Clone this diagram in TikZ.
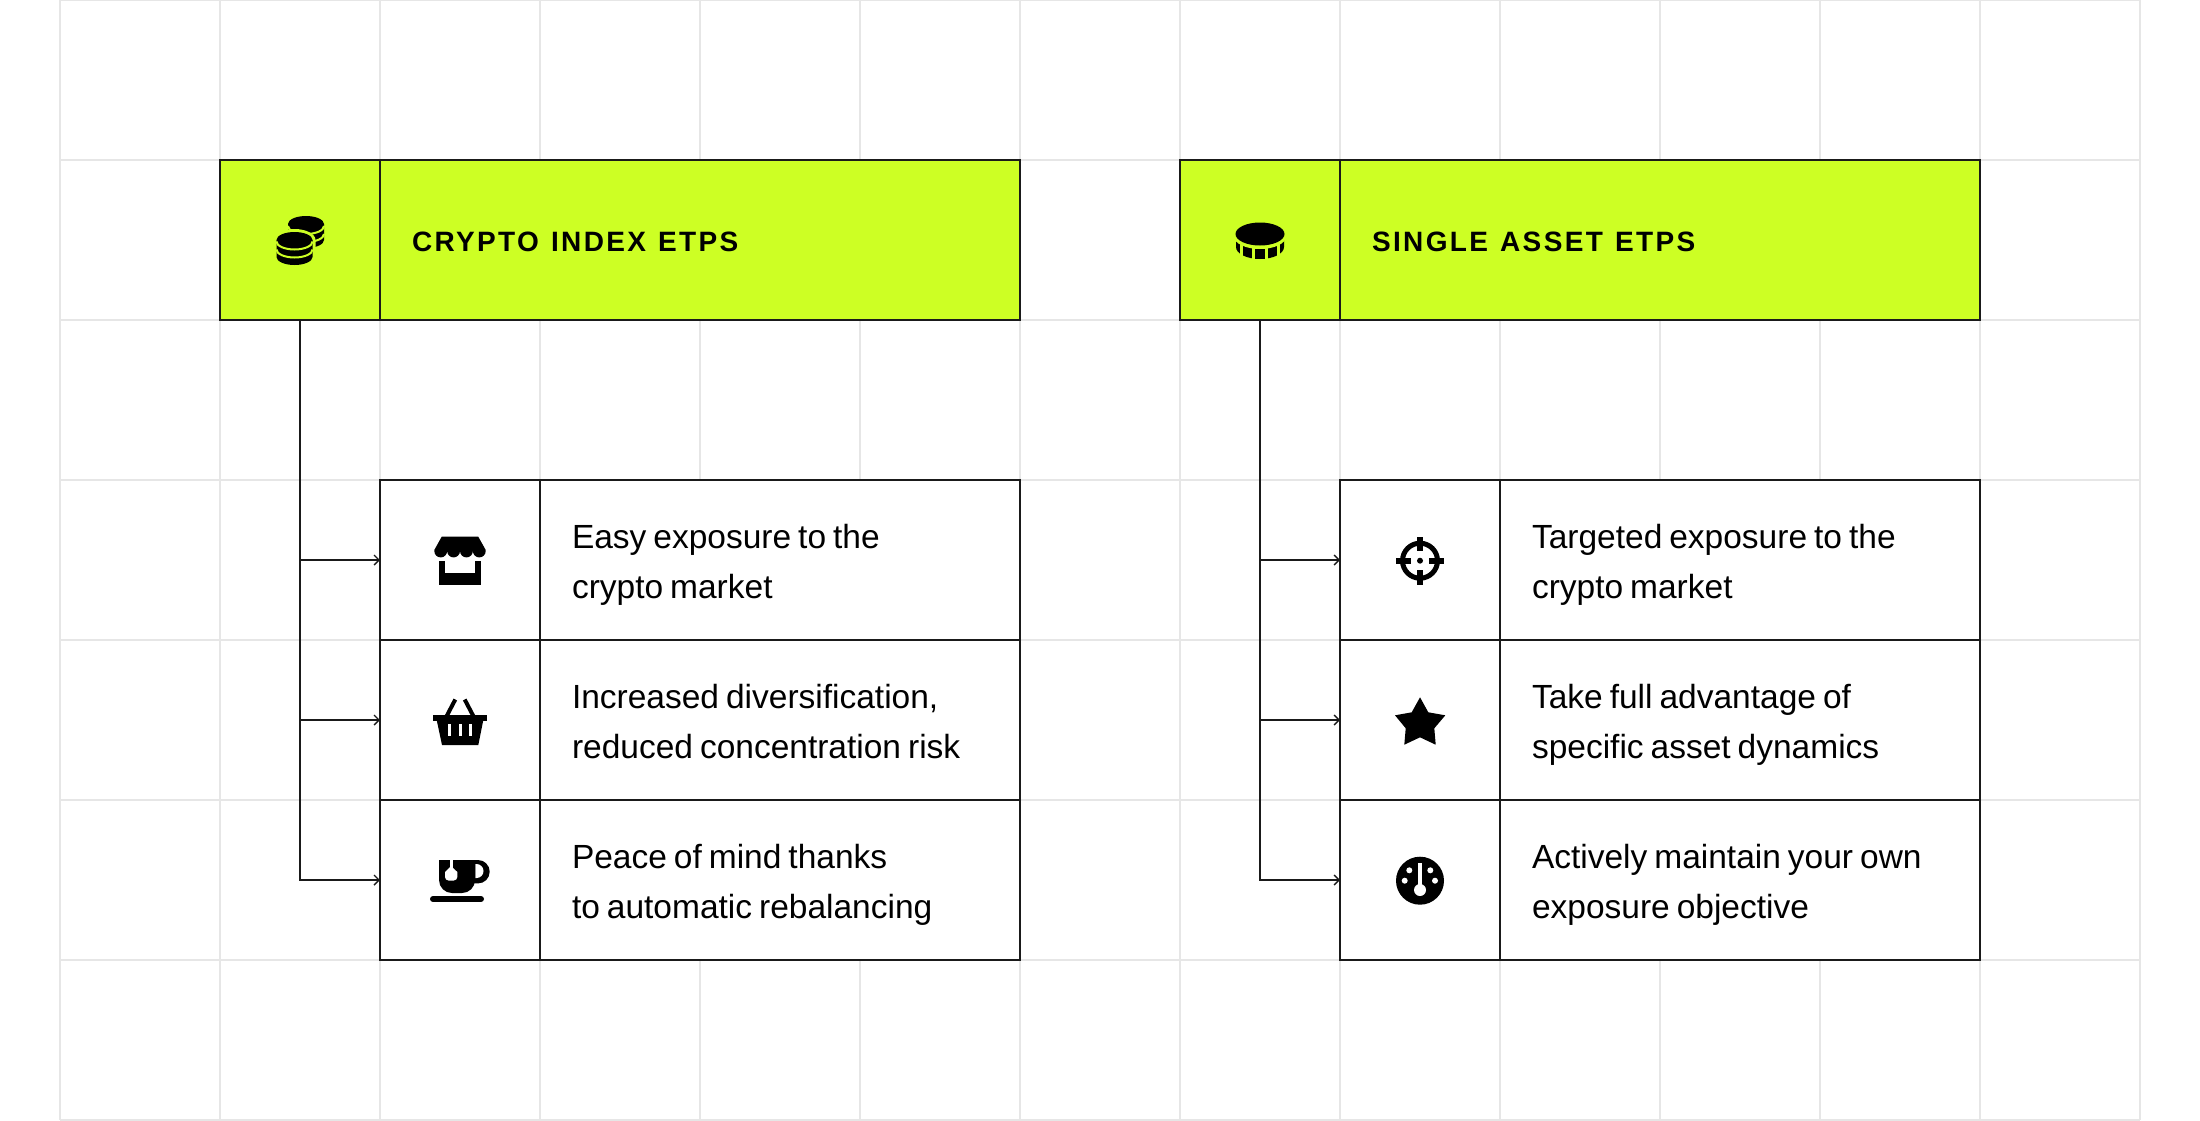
\documentclass[tikz,border=0pt]{standalone}
\usepackage{fontspec}
\setmainfont{Liberation Sans}
\newfontfamily\headfont[LetterSpace=8.5]{Liberation Sans}
\newfontfamily\bodyfont{Liberation Sans}
\usetikzlibrary{arrows.meta}
\definecolor{lime}{HTML}{CDFF24}
\definecolor{gridgrey}{HTML}{E6E6E6}
\definecolor{inkline}{HTML}{1A1A1A}
\newcommand{\lowerbody}{\spaceskip=7pt\relax\rule{0pt}{34pt}}
\newcommand{\lowerhead}{\spaceskip=12pt\relax\rule{0pt}{24pt}}
\newcommand{\depthend}{\rule[-7pt]{0pt}{7pt}}
\newcommand{\headtype}{\headfont\fontsize{28}{32}\selectfont\bfseries}
\newcommand{\bodytype}{\bodyfont\fontsize{33.5}{50}\selectfont}
\tikzset{
  gridline/.style={draw=gridgrey,line width=1.6pt},
  cell/.style={draw=inkline,line width=1.4pt,inner sep=0pt,outer sep=0pt,anchor=north west,fill=white,minimum height=160pt},
  iconcell/.style={cell,minimum width=160pt},
  headicon/.style={iconcell,fill=lime},
  headcell/.style={cell,fill=lime,minimum width=640pt,text width=576pt,inner xsep=32pt,align=left,font=\headtype},
  textcell/.style={cell,text width=#1,inner xsep=32pt,align=left,font=\bodytype},
  link/.style={draw=inkline,line width=1.4pt,-{Straight Barb[length=5pt,width=10pt,line width=1.4pt]}},
  ink/.style={fill=black,draw=none},
  paper/.style={fill=white,draw=none},
  limeink/.style={fill=lime,draw=none},
  bandgap/.style={draw=lime,line width=2pt},
  coinarc/.style={start angle=180,end angle=0,x radius=18,y radius=8},
}
\begin{document}
\begin{tikzpicture}[x=1pt,y=1pt,yscale=-1]
\useasboundingbox (0,0) rectangle (2200,1120);
\fill[white] (0,0) rectangle (2200,1120);
% grid
\foreach \gx in {60,220,...,2140} \draw[gridline] (\gx,0) -- (\gx,1120);
\foreach \gy in {0,160,...,1120} \draw[gridline] (60,\gy) -- (2140,\gy);
% left column
\node[headicon] (hA) at (220,160) {};
\node[headcell] (hAt) at (380,160) {\lowerhead CRYPTO INDEX ETPS};
\node[iconcell] (a1) at (380,480) {};
\node[iconcell] (a2) at (380,640) {};
\node[iconcell] (a3) at (380,800) {};
\node[textcell=416pt] (a1t) at (540,480) {\lowerbody Easy exposure to the\\crypto market\depthend};
\node[textcell=416pt] (a2t) at (540,640) {\lowerbody Increased diversification,\\reduced concentration risk\depthend};
\node[textcell=416pt] (a3t) at (540,800) {\lowerbody Peace of mind thanks\\to automatic rebalancing\depthend};
% right column
\node[headicon] (hB) at (1180,160) {};
\node[headcell] (hBt) at (1340,160) {\lowerhead SINGLE ASSET ETPS};
\node[iconcell] (b1) at (1340,480) {};
\node[iconcell] (b2) at (1340,640) {};
\node[iconcell] (b3) at (1340,800) {};
\node[textcell=416pt] (b1t) at (1500,480) {\lowerbody Targeted exposure to the\\crypto market\depthend};
\node[textcell=416pt] (b2t) at (1500,640) {\lowerbody Take full advantage of\\specific asset dynamics\depthend};
\node[textcell=416pt] (b3t) at (1500,800) {\lowerbody Actively maintain your own\\exposure objective\depthend};
% connectors
\foreach \tgt in {a1,a2,a3} \draw[link] (hA.south) |- (\tgt.west);
\foreach \tgt in {b1,b2,b3} \draw[link] (hB.south) |- (\tgt.west);
% coins icon: back stack
\fill[ink] (288,224) -- (288,240) arc[coinarc] -- (324,224) -- cycle;
\fill[ink] (306,224) ellipse[x radius=18,y radius=8];
\draw[bandgap] (288,226) arc[coinarc];
\draw[bandgap] (288,234) arc[coinarc];
% coins icon: front stack with halo
\fill[limeink] (273.5,240) -- (273.5,257) arc[start angle=180,end angle=0,x radius=21,y radius=11] -- (315.5,240) arc[start angle=0,end angle=-180,x radius=21,y radius=11] -- cycle;
\fill[ink] (276.5,240) -- (276.5,257) arc[coinarc] -- (312.5,240) -- cycle;
\fill[ink] (294.5,240) ellipse[x radius=18,y radius=8];
\draw[bandgap] (276.5,241.5) arc[coinarc];
\draw[bandgap] (276.5,249.5) arc[coinarc];
% single coin icon
\fill[ink] (1236,234) -- (1236,247) arc[start angle=180,end angle=0,x radius=24,y radius=12] -- (1284,234) -- cycle;
\foreach \sx in {1241.8,1253.7,1266.3,1278.2} \draw[lime,line width=3pt] (\sx,240) -- (\sx,262);
\fill[limeink] (1260,236.5) ellipse[x radius=26,y radius=12.5];
\fill[ink] (1260,234) ellipse[x radius=24.5,y radius=11.5];
% shop icon
\fill[ink] (439,560.5) rectangle (481,585);
\fill[paper] (445,555) rectangle (475.3,573);
\fill[ink] (441.7,536.7) -- (478.3,536.7) -- (485.7,550) -- (485.7,551)
  arc[start angle=0,end angle=180,radius=6.425]
  arc[start angle=0,end angle=180,radius=6.425]
  arc[start angle=0,end angle=180,radius=6.425]
  arc[start angle=0,end angle=180,radius=6.425]
  -- (434.3,550) -- cycle;
% basket icon
\fill[ink] (433,715) rectangle (487,721);
\fill[ink] (436.7,720) -- (483.3,720) -- (478.3,745) -- (442,745) -- cycle;
\fill[paper] (448,724) rectangle (451,736);
\fill[paper] (458.5,724) rectangle (461.5,736);
\fill[paper] (469,724) rectangle (472,736);
\draw[line width=4pt] (446.7,716) -- (455.3,699.5);
\draw[line width=4pt] (473.3,716) -- (464.7,699.5);
% cup icon
\fill[ink] (478,860) arc[start angle=-90,end angle=90,radius=11.7] -- (470,883.4) -- (470,860) -- cycle;
\fill[paper] (475.3,864) -- (476.5,864) arc[start angle=-90,end angle=90,radius=7] -- (475.3,878) -- cycle;
\fill[ink] (439,860) -- (475,860) -- (475,880) arc[start angle=0,end angle=90,radius=13] -- (452,893) arc[start angle=90,end angle=180,radius=13] -- cycle;
\fill[paper] (449.5,860) rectangle (452.5,868);
\fill[paper] (451,866) -- (457.3,872) -- (457.3,877) arc[start angle=0,end angle=90,radius=3.5] -- (448.5,880.5) arc[start angle=90,end angle=180,radius=3.5] -- (445,872) -- cycle;
\draw[line width=6pt,line cap=round] (433,899) -- (481,899);
% crosshair icon
\draw[line width=5pt] (1420,560.7) circle[radius=17.5];
\fill[ink] (1417,536.7) rectangle (1423,551.4);
\fill[ink] (1417,570) rectangle (1423,584.7);
\fill[ink] (1396,557.7) rectangle (1410.7,563.7);
\fill[ink] (1429.3,557.7) rectangle (1444,563.7);
\fill[ink] (1420,560.7) circle[radius=3];
% star icon
\fill[ink] (1420,697.3) -- (1428.3,712.3) -- (1445.3,715.3) -- (1434.3,728.3) -- (1435.7,744.7) -- (1420,737.3) -- (1404.3,744.7) -- (1405.7,728.3) -- (1395,715.3) -- (1411.7,712.3) -- cycle;
% gauge icon
\fill[ink] (1420,880.7) circle[radius=24];
\fill[paper] (1420,890) circle[radius=6];
\fill[paper] (1418,863.3) rectangle (1422,890);
\fill[paper] (1409.3,870.3) circle[radius=3];
\fill[paper] (1430.3,870.3) circle[radius=3];
\fill[paper] (1404.7,880.7) circle[radius=3];
\fill[paper] (1435,880.7) circle[radius=3];
\end{tikzpicture}
\end{document}
